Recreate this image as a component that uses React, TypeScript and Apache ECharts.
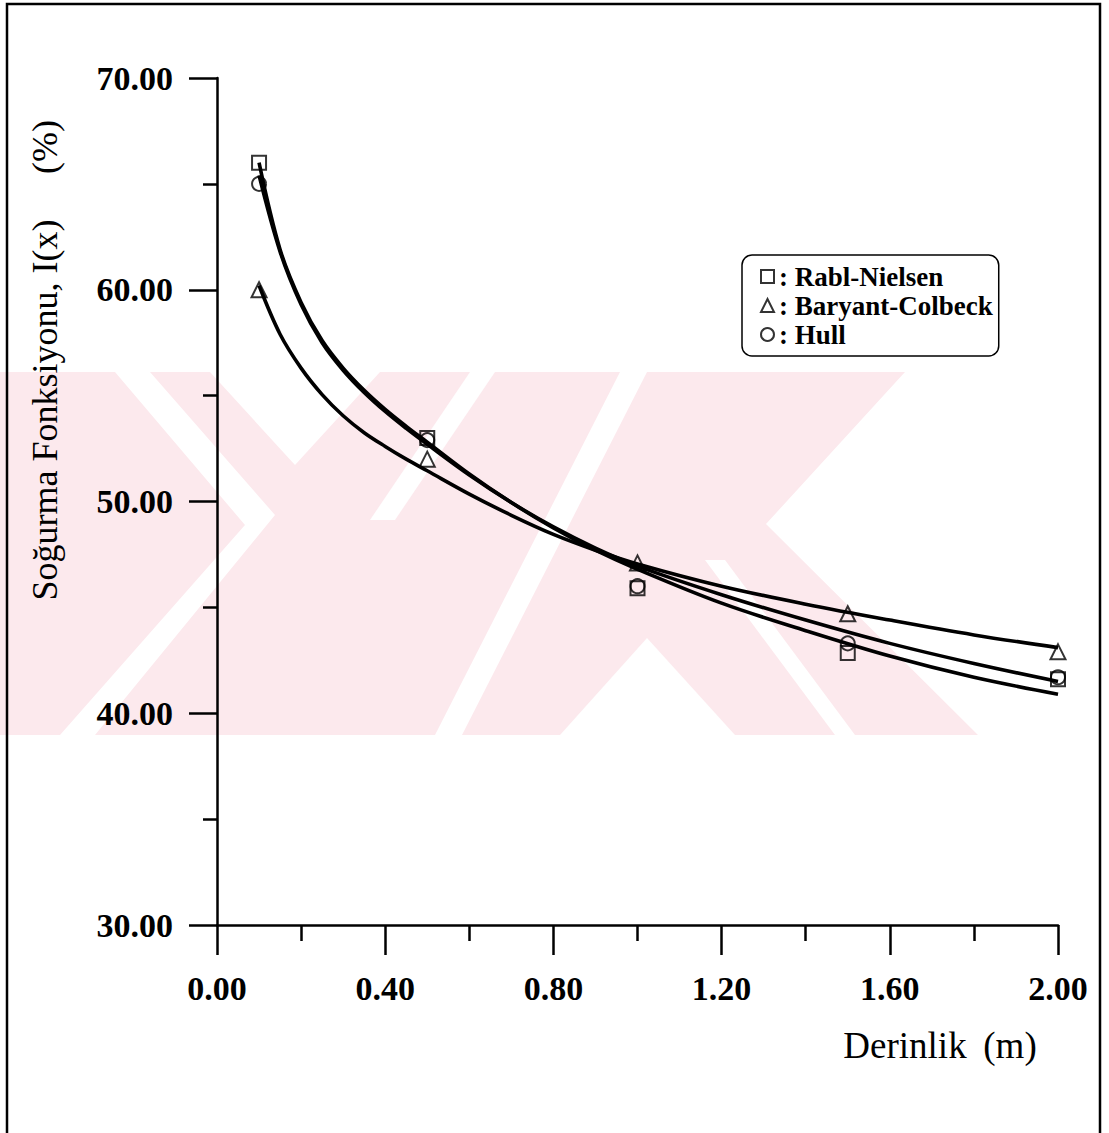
import React, { useEffect, useRef } from "react";
import * as echarts from "echarts";

// Measured points (depth in m, absorption function in %)
const depths = [0.1, 0.5, 1.0, 1.5, 2.0];
const rablNielsen = [66.0, 53.0, 45.9, 42.85, 41.6];
const baryantColbeck = [60.0, 52.0, 47.1, 44.7, 42.9];
const hull = [65.0, 52.9, 46.0, 43.3, 41.7];

// Fitted curves, sampled along depth
const curveX = [0.1, 0.15, 0.2, 0.25, 0.3, 0.35, 0.4, 0.45, 0.5, 0.6, 0.7, 0.8, 0.9, 1.0, 1.2, 1.4, 1.6, 1.8, 2.0];
const rablCurveY = [66.0, 61.9, 59.4, 57.6, 56.3, 55.25, 54.35, 53.55, 52.8, 51.3, 49.95, 48.75, 47.7, 46.8, 45.2, 43.9, 42.7, 41.7, 40.9];
const hullCurveY = [65.4, 61.8, 59.3, 57.5, 56.2, 55.15, 54.25, 53.45, 52.7, 51.25, 49.95, 48.8, 47.8, 46.95, 45.6, 44.4, 43.3, 42.35, 41.5];
const baryantCurveY = [60.2, 57.9, 56.3, 55.05, 54.05, 53.25, 52.6, 52.0, 51.45, 50.35, 49.35, 48.45, 47.7, 47.05, 46.0, 45.15, 44.4, 43.7, 43.1];

const seriesNames = ["Rabl-Nielsen", "Baryant-Colbeck", "Hull"];

const FONT = "'Liberation Serif', 'Times New Roman', serif";
const PINK = "#fce9ed";

function pairs(xs: number[], ys: number[]) {
  return xs.map((x, i) => [x, ys[i]]);
}

const markerStyle = {
  color: "rgba(0,0,0,0)",
  borderColor: "#000",
  borderWidth: 2,
};

const curveStyle = { color: "#000", width: 3.6 };

// Pale background emblem: a pink field with white cut-outs
const emblemField = [[0, 372], [905, 372], [766, 524], [978, 735], [0, 735]];
const emblemCuts = [
  [[210, 372], [295, 465], [380, 372]],
  [[560, 735], [647, 638], [735, 735]],
  [[115, 372], [150, 372], [275, 515], [95, 735], [60, 735], [245, 525]],
  [[470, 372], [495, 372], [395, 520], [370, 520]],
  [[620, 372], [647, 372], [462, 735], [435, 735]],
  [[705, 560], [725, 560], [855, 735], [835, 735]],
];

export default function App() {
  const ref = useRef<HTMLDivElement>(null);

  useEffect(() => {
    if (!ref.current) return;
    const chart = echarts.init(ref.current, undefined, { renderer: "svg" });

    const emblem: any[] = [
      {
        type: "polygon",
        shape: { points: emblemField },
        style: { fill: PINK },
        silent: true,
        z: -20,
      },
      ...emblemCuts.map((pts) => ({
        type: "polygon",
        shape: { points: pts },
        style: { fill: "#fff" },
        silent: true,
        z: -19,
      })),
    ];

    const option: any = {
      animation: false,
      backgroundColor: "#fff",
      grid: { left: 217, top: 78, right: 51, bottom: 208 },
      xAxis: {
        type: "value",
        min: 0,
        max: 2,
        interval: 0.4,
        axisLine: { show: true, lineStyle: { color: "#000", width: 2.5 } },
        axisTick: { show: true, inside: false, length: 30, lineStyle: { color: "#000", width: 2.5 } },
        minorTick: { show: true, splitNumber: 2, length: 16, lineStyle: { color: "#000", width: 2.5 } },
        splitLine: { show: false },
        minorSplitLine: { show: false },
        axisLabel: {
          margin: 46,
          color: "#000",
          fontFamily: FONT,
          fontSize: 34,
          fontWeight: "bold",
          formatter: (v: number) => v.toFixed(2),
        },
      },
      yAxis: {
        type: "value",
        min: 30,
        max: 70,
        interval: 10,
        axisLine: { show: true, lineStyle: { color: "#000", width: 2.5 } },
        axisTick: { show: true, inside: false, length: 28, lineStyle: { color: "#000", width: 2.5 } },
        minorTick: { show: true, splitNumber: 2, length: 14, lineStyle: { color: "#000", width: 2.5 } },
        splitLine: { show: false },
        minorSplitLine: { show: false },
        axisLabel: {
          margin: 44,
          color: "#000",
          fontFamily: FONT,
          fontSize: 34,
          fontWeight: "bold",
          formatter: (v: number) => v.toFixed(2),
        },
      },
      legend: {
        data: seriesNames,
        orient: "vertical",
        left: 742,
        top: 255,
        padding: [8, 6, 8, 18],
        itemGap: 2,
        itemWidth: 13,
        itemHeight: 13,
        borderColor: "#000",
        borderWidth: 1.5,
        borderRadius: 10,
        backgroundColor: "#fff",
        formatter: (name: string) => ": " + name,
        textStyle: {
          color: "#000",
          fontFamily: FONT,
          fontSize: 27,
          fontWeight: "bold",
          lineHeight: 27,
        },
      },
      graphic: [
        ...emblem,
        {
          type: "rect",
          shape: { x: 7, y: 4, width: 1093, height: 1200 },
          style: { fill: "none", stroke: "#000", lineWidth: 2.5 },
          silent: true,
          z: 100,
        },
        {
          type: "text",
          x: 905,
          y: 1045,
          style: { text: "Derinlik", font: `37px ${FONT}`, fill: "#000", align: "center", verticalAlign: "middle" },
        },
        {
          type: "text",
          x: 1010,
          y: 1045,
          style: { text: "(m)", font: `37px ${FONT}`, fill: "#000", align: "center", verticalAlign: "middle" },
        },
        {
          type: "text",
          x: 45,
          y: 410,
          rotation: Math.PI / 2,
          style: { text: "Soğurma Fonksiyonu, I(x)", font: `36px ${FONT}`, fill: "#000", align: "center", verticalAlign: "middle" },
        },
        {
          type: "text",
          x: 45,
          y: 147,
          rotation: Math.PI / 2,
          style: { text: "(%)", font: `36px ${FONT}`, fill: "#000", align: "center", verticalAlign: "middle" },
        },
      ],
      series: [
        {
          name: "Rabl-Nielsen",
          type: "scatter",
          symbol: "rect",
          symbolSize: 14,
          itemStyle: markerStyle,
          data: pairs(depths, rablNielsen),
          z: 3,
        },
        {
          name: "Baryant-Colbeck",
          type: "scatter",
          symbol: "triangle",
          symbolSize: 15,
          itemStyle: markerStyle,
          data: pairs(depths, baryantColbeck),
          z: 3,
        },
        {
          name: "Hull",
          type: "scatter",
          symbol: "circle",
          symbolSize: 14,
          itemStyle: markerStyle,
          data: pairs(depths, hull),
          z: 3,
        },
        {
          name: "Rabl-Nielsen fit",
          type: "line",
          smooth: 0.35,
          showSymbol: false,
          lineStyle: curveStyle,
          data: pairs(curveX, rablCurveY),
          z: 4,
        },
        {
          name: "Baryant-Colbeck fit",
          type: "line",
          smooth: 0.35,
          showSymbol: false,
          lineStyle: curveStyle,
          data: pairs(curveX, baryantCurveY),
          z: 4,
        },
        {
          name: "Hull fit",
          type: "line",
          smooth: 0.35,
          showSymbol: false,
          lineStyle: curveStyle,
          data: pairs(curveX, hullCurveY),
          z: 4,
        },
      ],
    };
    chart.setOption(option);
    return () => chart.dispose();
  }, []);

  return (
    <div
      ref={ref}
      style={{ position: "absolute", left: 0, top: 0, width: 1109, height: 1133, background: "#fff" }}
    />
  );
}
